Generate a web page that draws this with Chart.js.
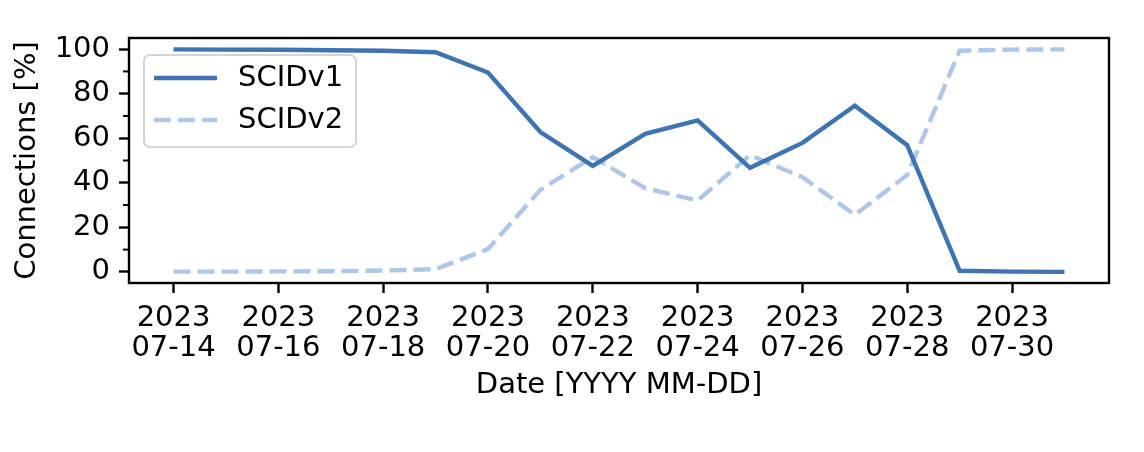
<!DOCTYPE html>
<html>
<head>
<meta charset="utf-8">
<script src="https://cdn.jsdelivr.net/npm/chart.js@4/dist/chart.umd.min.js"></script>
<style>
  body { margin: 0; background: #fff; }
  #c { display: block; }
</style>
</head>
<body>
<canvas id="c" width="1144" height="452"></canvas>
<script>
// daily values
const dates = [
  '2023-07-14', '2023-07-15', '2023-07-16', '2023-07-17', '2023-07-18', '2023-07-19',
  '2023-07-20', '2023-07-21', '2023-07-22', '2023-07-23', '2023-07-24', '2023-07-25',
  '2023-07-26', '2023-07-27', '2023-07-28', '2023-07-29', '2023-07-30', '2023-07-31'
];
const scidV1 = [99.9, 99.8, 99.7, 99.5, 99.3, 98.6, 89.5, 62.8, 47.6, 62.0, 68.0, 46.7, 57.9, 74.6, 56.9, 0.5, 0.1, 0.0];
const scidV2 = [0.1, 0.1, 0.2, 0.3, 0.6, 1.2, 10.2, 36.8, 51.5, 37.6, 32.0, 52.4, 42.5, 25.6, 43.5, 99.3, 99.8, 99.9];
const xTickIdx = [0, 2, 4, 6, 8, 10, 12, 14, 16];
const yMajor = [0, 20, 40, 60, 80, 100];
const yMinor = [10, 30, 50, 70, 90];

const FONT = 'DejaVu Sans';
Chart.defaults.color = '#000';
Chart.defaults.font.family = FONT;
Chart.defaults.font.size = 29;

const toPoints = arr => arr.map((v, i) => ({ x: i, y: v }));

// frame, minor ticks and legend drawn by hand (matplotlib look)
const decor = {
    id: 'decor',
    afterDraw(chart) {
        const { ctx, chartArea: a } = chart;
        const y = chart.scales.y;
        ctx.save();
        ctx.strokeStyle = '#000';
        ctx.lineWidth = 2.4;
        ctx.strokeRect(a.left, a.top, a.right - a.left, a.bottom - a.top);
        ctx.lineWidth = 2;
        yMinor.forEach(v => {
            const py = y.getPixelForValue(v);
            ctx.beginPath();
            ctx.moveTo(a.left - 6, py);
            ctx.lineTo(a.left, py);
            ctx.stroke();
        });

        // legend
        const bx = 144, by = 55, bw = 212, bh = 92;
        ctx.beginPath();
        ctx.roundRect(bx, by, bw, bh, 6);
        ctx.fillStyle = 'rgba(255,255,255,0.8)';
        ctx.fill();
        ctx.strokeStyle = '#d4d4d4';
        ctx.lineWidth = 2;
        ctx.stroke();
        chart.data.datasets.forEach((ds, i) => {
            const ly = 78 + i * 42;
            ctx.beginPath();
            ctx.strokeStyle = ds.borderColor;
            ctx.lineWidth = ds.borderWidth;
            ctx.lineCap = 'butt';
            ctx.setLineDash(ds.borderDash || []);
            ctx.moveTo(154, ly);
            ctx.lineTo(217, ly);
            ctx.stroke();
            ctx.setLineDash([]);
            ctx.fillStyle = '#000';
            ctx.font = '29px ' + FONT;
            ctx.textBaseline = 'middle';
            ctx.textAlign = 'left';
            ctx.fillText(ds.label, 238, ly);
        });
        ctx.restore();
    }
};

new Chart(document.getElementById('c'), {
    type: 'line',
    data: {
        datasets: [
            {
                label: 'SCIDv1',
                data: toPoints(scidV1),
                borderColor: '#3e74b1',
                borderWidth: 4.4,
                pointRadius: 0,
                tension: 0
            },
            {
                label: 'SCIDv2',
                data: toPoints(scidV2),
                borderColor: '#aec7e8',
                borderWidth: 4.4,
                borderDash: [17, 7],
                pointRadius: 0,
                tension: 0
            }
        ]
    },
    options: {
        responsive: false,
        animation: false,
        layout: { padding: { left: 6, top: 38, right: 35, bottom: 45 } },
        plugins: { legend: { display: false }, tooltip: { enabled: false } },
        scales: {
            x: {
                type: 'linear',
                min: -0.85,
                max: 17.85,
                afterBuildTicks: s => { s.ticks = xTickIdx.map(v => ({ value: v })); },
                afterFit: s => { s.height = 124; },
                grid: { drawOnChartArea: false, tickLength: 10, tickWidth: 2.4, tickColor: '#000' },
                border: { display: false },
                ticks: {
                    padding: 10,
                    maxRotation: 0,
                    font: { size: 29, lineHeight: 1.05 },
                    callback: v => {
                        const d = dates[v];
                        return [d.slice(0, 4), d.slice(5)];
                    }
                },
                title: { display: true, text: 'Date [YYYY MM-DD]', font: { size: 29 } }
            },
            y: {
                min: -5,
                max: 105,
                afterBuildTicks: s => { s.ticks = yMajor.map(v => ({ value: v })); },
                afterFit: s => { s.width = 123; },
                grid: { drawOnChartArea: false, tickLength: 10, tickWidth: 2.4, tickColor: '#000' },
                border: { display: false },
                ticks: { padding: 9, font: { size: 29 } },
                title: { display: true, text: 'Connections [%]', font: { size: 29 } }
            }
        }
    },
    plugins: [decor]
});
</script>
</body>
</html>
